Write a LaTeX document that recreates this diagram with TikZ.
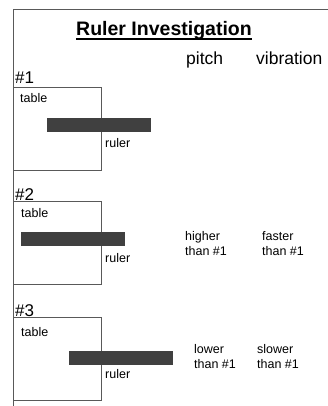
\documentclass[tikz,border=0pt]{standalone}
\usepackage{fontspec}
\setmainfont{Liberation Sans}
\begin{document}
\begin{tikzpicture}[x=1pt,y=-1pt,
  small/.style={anchor=base west,inner sep=0pt,font=\fontsize{12.5}{14}\selectfont},
  head/.style={anchor=base west,inner sep=0pt,font=\fontsize{17.5}{20}\selectfont},
  num/.style={anchor=base west,inner sep=0pt,font=\fontsize{17}{20}\selectfont},
  tbox/.style={draw=black!65,line width=1pt,anchor=north west,inner sep=0pt,minimum width=88pt,minimum height=83pt},
  bar/.style={fill=black!75,draw=none,anchor=north west,inner sep=0pt,minimum width=104pt,minimum height=14pt},
  frame/.style={draw=black!65,line width=1pt}]
\useasboundingbox (0,0) rectangle (328,406);
\fill[white] (0,0) rectangle (328,406);
\coordinate (ftl) at (13,10);
\coordinate (ftr) at (328,10);
\coordinate (fbl) at (13,406);
\draw[frame] (ftr) -- (ftl) -- (fbl);
\node[anchor=base,inner sep=0pt,font=\fontsize{19.5}{22}\selectfont\bfseries] (title) at (164,36) {Ruler Investigation};
\draw[line width=1.2pt] ([yshift=-3pt]title.base west) -- ([yshift=-3pt]title.base east);
\node[head] (pitch) at (186,65) {pitch};
\node[head] (vib) at (256,65) {vibration};
% 1
\node[num] (n1) at (15,84) {\#1};
\node[tbox] (box1) at (13,87) {};
\node[small] (table1) at (20,103) {table};
\node[bar] (bar1) at (47,118) {};
\node[small] (ruler1) at (105,147) {ruler};
% 2
\node[num] (n2) at (15,200) {\#2};
\node[tbox] (box2) at (13,201) {};
\node[small] (table2) at (21,217) {table};
\node[bar] (bar2) at (21,232) {};
\node[small] (ruler2) at (105,262) {ruler};
\node[small] (p2a) at (185,240) {higher};
\node[small] (p2b) at (185,255) {than \#1};
\node[small] (v2a) at (262,240) {faster};
\node[small] (v2b) at (262,255) {than \#1};
% 3
\node[num] (n3) at (15,316) {\#3};
\node[tbox] (box3) at (13,317) {};
\node[small] (table3) at (21,336) {table};
\node[bar] (bar3) at (69,351) {};
\node[small] (ruler3) at (105,378) {ruler};
\node[small] (p3a) at (194,353) {lower};
\node[small] (p3b) at (194,368) {than \#1};
\node[small] (v3a) at (257,353) {slower};
\node[small] (v3b) at (257,368) {than \#1};
\end{tikzpicture}
\end{document}
